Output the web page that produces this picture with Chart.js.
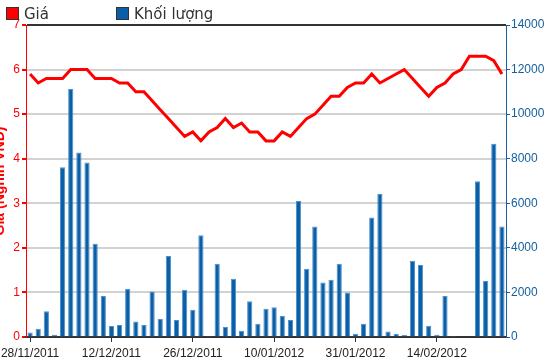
<!DOCTYPE html>
<html>
<head>
  <meta charset="UTF-8">
  <title>Giá và khối lượng</title>
  <script src="https://cdn.jsdelivr.net/npm/chart.js@4.4.1/dist/chart.umd.min.js"></script>
  <style>
    body { margin: 0; background: #fff; }
    #wrap { position: relative; width: 550px; height: 364px; }
    #legend { position: absolute; top: 0; left: 0; height: 25px; font: 15px "DejaVu Sans", sans-serif; color: #333; }
    #legend span.item { position: absolute; top: 5px; white-space: nowrap; }
    #legend span.box { display: inline-block; width: 11px; height: 11px; border: 1px solid #333; vertical-align: -1px; margin-right: 5px; }
  </style>
</head>
<body>
<div id="wrap">
  <canvas id="myChart" width="550" height="364"></canvas>
  <div id="legend"></div>
</div>
<script>
  // ngày giao dịch
  var dates = [
    "28/11/2011", "29/11/2011", "30/11/2011", "01/12/2011", "02/12/2011",
    "05/12/2011", "06/12/2011", "07/12/2011", "08/12/2011", "09/12/2011",
    "12/12/2011", "13/12/2011", "14/12/2011", "15/12/2011", "16/12/2011",
    "19/12/2011", "20/12/2011", "21/12/2011", "22/12/2011", "23/12/2011",
    "26/12/2011", "27/12/2011", "28/12/2011", "29/12/2011", "30/12/2011",
    "03/01/2012", "04/01/2012", "05/01/2012", "06/01/2012", "09/01/2012",
    "10/01/2012", "11/01/2012", "12/01/2012", "13/01/2012", "16/01/2012",
    "17/01/2012", "18/01/2012", "19/01/2012", "20/01/2012", "30/01/2012",
    "31/01/2012", "01/02/2012", "02/02/2012", "03/02/2012", "06/02/2012",
    "07/02/2012", "08/02/2012", "09/02/2012", "10/02/2012", "13/02/2012",
    "14/02/2012", "15/02/2012", "16/02/2012", "17/02/2012", "20/02/2012",
    "21/02/2012", "22/02/2012", "23/02/2012", "24/02/2012"
  ];

  // giá (nghìn VNĐ)
  var price = [
    5.9, 5.7, 5.8, 5.8, 5.8, 6.0, 6.0, 6.0, 5.8, 5.8,
    5.8, 5.7, 5.7, 5.5, 5.5, 5.3, 5.1, 4.9, 4.7, 4.5,
    4.6, 4.4, 4.6, 4.7, 4.9, 4.7, 4.8, 4.6, 4.6, 4.4,
    4.4, 4.6, 4.5, 4.7, 4.9, 5.0, 5.2, 5.4, 5.4, 5.6,
    5.7, 5.7, 5.9, 5.7, 5.8, 5.9, 6.0, 5.8, 5.6, 5.4,
    5.6, 5.7, 5.9, 6.0, 6.3, 6.3, 6.3, 6.2, 5.9
  ];

  // khối lượng
  var volume = [
    200, 370, 1150, 100, 7620, 11130, 8280, 7830, 4180, 1840,
    490, 540, 2170, 700, 540, 2040, 820, 3630, 760, 2120,
    1220, 4570, 50, 3290, 450, 2610, 280, 1600, 600, 1270,
    1330, 940, 760, 6100, 3060, 4960, 2450, 2570, 3290, 2000,
    150, 600, 5360, 6420, 250, 150, 90, 3420, 3230, 510,
    100, 1840, 50, 0, 0, 6990, 2510, 8670, 4960
  ];

  var priceColor = "#ff0000";
  var volColor = "#0a5fa6";
  var volAxisColor = "#15609e";

  // legend kiểu cũ, vẽ bằng HTML
  var legendItems = [
    { text: "Giá", color: priceColor, left: 6 },
    { text: "Khối lượng", color: volColor, left: 116 }
  ];
  var legendDiv = document.getElementById("legend");
  legendItems.forEach(function(it) {
    var s = document.createElement("span");
    s.className = "item";
    s.style.left = it.left + "px";
    var b = document.createElement("span");
    b.className = "box";
    b.style.background = it.color;
    s.appendChild(b);
    s.appendChild(document.createTextNode(it.text));
    legendDiv.appendChild(s);
  });

  var tickFont = { family: "'Liberation Sans', Arial, sans-serif", size: 12 };

  new Chart(document.getElementById("myChart"), {
    type: "bar",
    data: {
      labels: dates,
      datasets: [{
        type: "line",
        label: "Giá",
        data: price,
        yAxisID: "y",
        borderColor: priceColor,
        backgroundColor: priceColor,
        borderWidth: 3,
        pointRadius: 0,
        tension: 0,
        order: 0
      }, {
        type: "bar",
        label: "Khối lượng",
        data: volume,
        yAxisID: "y1",
        backgroundColor: volColor,
        borderColor: "#4d91cf",
        borderWidth: 1,
        barPercentage: 0.64,
        categoryPercentage: 1,
        order: 1
      }]
    },
    options: {
      responsive: false,
      animation: false,
      devicePixelRatio: 1,
      layout: { padding: { top: 25, left: 0, right: 0, bottom: 0 } },
      plugins: {
        legend: { display: false },
        tooltip: { enabled: false }
      },
      scales: {
        x: {
          type: "category",
          position: "bottom",
          offset: true,
          grid: { display: true, drawOnChartArea: false, offset: false, tickLength: 5, color: "#333", tickColor: "#333" },
          border: { color: "#333", width: 2 },
          ticks: { autoSkip: false, maxRotation: 0, minRotation: 0, color: "#222", font: tickFont, padding: 4 },
          afterBuildTicks: function(scale) {
            // chỉ hiện mỗi 10 phiên
            scale.ticks = scale.ticks.filter(function(t) { return t.value % 10 === 0; });
          },
          afterFit: function(scale) {
            scale.height = 27;
            // nhãn đầu tiên được phép tràn ra mép trái
            scale.paddingLeft = 0;
            scale.paddingRight = 0;
          }
        },
        y: {
          position: "left",
          min: 0,
          max: 7,
          ticks: { stepSize: 1, color: priceColor, font: tickFont, padding: 2 },
          grid: {
            color: function(ctx) {
              if (ctx.tick && ctx.tick.value === 7) return "#333";
              return "#d2d2d2";
            },
            lineWidth: 2,
            tickColor: priceColor,
            tickLength: 4
          },
          border: { color: priceColor, width: 1 },
          title: {
            display: true,
            text: "Giá (Nghìn VNĐ)",
            color: priceColor,
            font: { family: "'Liberation Sans', Arial, sans-serif", size: 14, weight: "bold" },
            padding: { top: -8, bottom: 0 }
          },
          afterFit: function(scale) { scale.width = 26; }
        },
        y1: {
          position: "right",
          min: 0,
          max: 14000,
          ticks: {
            stepSize: 2000, color: volAxisColor, font: tickFont, padding: 1,
            callback: function(v) { return String(v); }
          },
          grid: { drawOnChartArea: false, tickColor: volAxisColor, tickLength: 4 },
          border: { color: volAxisColor, width: 1 },
          afterFit: function(scale) { scale.width = 44; }
        }
      }
    }
  });
</script>
</body>
</html>
